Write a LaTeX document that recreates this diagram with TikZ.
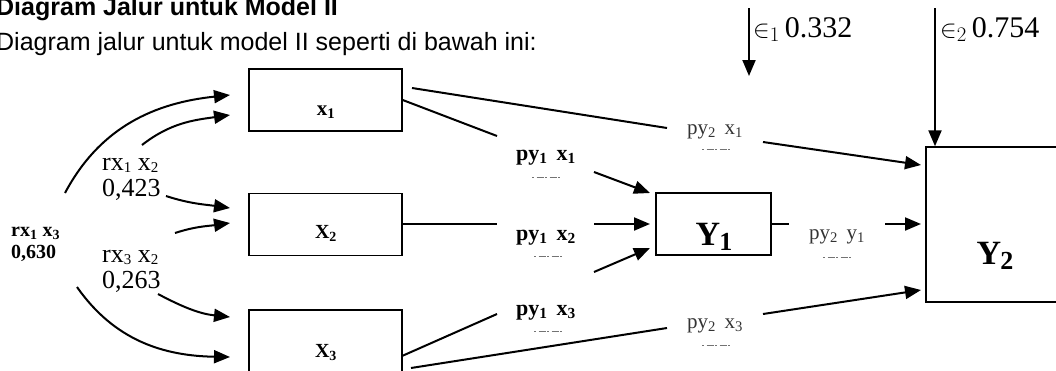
\documentclass[tikz,border=0pt]{standalone}
\usepackage{fontspec}
\setmainfont{Liberation Serif}
\newfontfamily\arial{Liberation Sans}
\usetikzlibrary{arrows.meta}
\newcommand{\bigsub}[1]{\kern-1pt\raisebox{-5pt}{\fontsize{26}{30}\selectfont #1}}
\newcommand{\lowsub}[1]{\raisebox{-2.5pt}{\fontsize{15}{18}\selectfont #1}}
\begin{document}
\begin{tikzpicture}[x=1pt,y=1pt,
  box/.style={draw, line width=1.4pt, minimum width=153pt, minimum height=62pt, inner sep=0pt},
  link/.style={line width=2pt},
  arr/.style={line width=2pt, -{Triangle[length=16pt,width=13pt]}},
  txt/.style={inner sep=0pt, anchor=base west},
  head/.style={txt, font=\arial\bfseries\fontsize{25}{30}\selectfont},
  intro/.style={txt, font=\arial\fontsize{25}{30}\selectfont},
  corr/.style={txt, font=\fontsize{26}{30}\selectfont},
  corrb/.style={txt, font=\bfseries\fontsize{20}{24}\selectfont},
  pathb/.style={inner sep=0pt, anchor=base, font=\bfseries\fontsize{22}{26}\selectfont},
  pathr/.style={inner sep=0pt, anchor=base, font=\fontsize{21}{26}\selectfont, text=black!80},
  varlab/.style={inner sep=0pt, anchor=base, font=\bfseries\fontsize{20}{24}\selectfont},
  biglab/.style={inner sep=0pt, anchor=base, font=\bfseries\fontsize{34}{40}\selectfont},
  errlab/.style={txt, font=\fontsize{30}{34}\selectfont},
  faint/.style={black!55, line width=0.8pt, dash pattern=on 2pt off 2.5pt on 7pt off 1.5pt}
]
\useasboundingbox (0,0) rectangle (1056,-370);
\clip (0,0) rectangle (1056,-370);

% heading
\node[head] (title) at (-4,-15) {Diagram Jalur untuk Model II};
\node[intro] (intro) at (-4,-50) {Diagram jalur untuk model II seperti di bawah ini:};

% variable boxes
\node[box] (X1) at (325.5,-100) {};
\node[box] (X2) at (325.5,-224.5) {};
\node[box] (X3) at (325.5,-341) {};
\node[box, minimum width=115pt] (Y1) at (713.5,-224) {};
\node[box, minimum width=140pt, minimum height=155pt] (Y2) at (996,-224.5) {};

\node[varlab, font=\bfseries\fontsize{21}{24}\selectfont] (lx1) at (326,-115) {x\textsubscript{1}};
\node[varlab] (lx2) at (326,-238) {X\textsubscript{2}};
\node[varlab] (lx3) at (326,-357) {X\textsubscript{3}};
\node[biglab] (ly1) at (714,-245) {Y\bigsub{1}};
\node[biglab] (ly2) at (995,-264) {Y\bigsub{2}};

% correlations between the exogenous variables
\node[corr] (r12) at (102,-170) {rx\lowsub{1} x\lowsub{2}};
\node[corr] (v12) at (102,-196) {0,423};
\node[corrb] (r13) at (11,-236) {rx\textsubscript{1} x\textsubscript{3}};
\node[corrb] (v13) at (11,-258) {0,630};
\node[corr] (r32) at (102,-262) {rx\lowsub{3} x\lowsub{2}};
\node[corr] (v32) at (102,-288) {0,263};

\coordinate (a1) at (65,-193);  \coordinate (b1) at (230,-95);
\coordinate (a2) at (142,-145); \coordinate (b2) at (230,-115);
\coordinate (a3) at (166,-196); \coordinate (b3) at (230,-208);
\coordinate (a4) at (175,-233); \coordinate (b4) at (230,-223);
\coordinate (a5) at (158,-294); \coordinate (b5) at (230,-317);
\coordinate (a6) at (77,-287);  \coordinate (b6) at (230,-357);
\draw[arr] (a1) to[out=62,in=186] (b1);
\draw[arr] (a2) to[out=38,in=188] (b2);
\draw[arr] (a3) to[out=-18,in=172] (b3);
\draw[arr] (a4) to[out=18,in=188] (b4);
\draw[arr] (a5) to[out=-28,in=174] (b5);
\draw[arr] (a6) to[out=-55,in=179] (b6);

% path coefficients towards Y1
\node[pathb] (p11) at (546,-160) {py\textsubscript{1}\, x\textsubscript{1}};
\node[pathb] (p12) at (546,-240) {py\textsubscript{1}\, x\textsubscript{2}};
\node[pathb] (p13) at (546,-315) {py\textsubscript{1}\, x\textsubscript{3}};
\draw[faint] (532,-177) -- (560,-177);
\draw[faint] (534,-256) -- (562,-256);
\draw[faint] (534,-331) -- (562,-331);

\coordinate (s11) at (X1.east);   \coordinate (g11) at (497,-136);
\coordinate (h11) at (594,-172);  \coordinate (e11) at (650,-193);
\draw[link] (s11) -- (g11);
\draw[arr] (h11) -- (e11);

\coordinate (s12) at (402,-224); \coordinate (g12) at (497,-224);
\coordinate (h12) at (594,-224); \coordinate (e12) at (650,-224);
\draw[link] (s12) -- (g12);
\draw[arr] (h12) -- (e12);

\coordinate (s13) at (402,-356); \coordinate (g13) at (497,-314);
\coordinate (h13) at (594,-272); \coordinate (e13) at (650,-248);
\draw[link] (s13) -- (g13);
\draw[arr] (h13) -- (e13);

% path coefficients towards Y2
\node[pathr] (p21) at (715,-134) {py\textsubscript{2}\, x\textsubscript{1}};
\node[pathr] (p23) at (715,-328) {py\textsubscript{2}\, x\textsubscript{3}};
\node[pathr] (p2y) at (837,-239) {py\textsubscript{2}\, y\textsubscript{1}};
\draw[faint] (702,-149) -- (730,-149);
\draw[faint] (702,-345) -- (730,-345);
\draw[faint] (823,-257) -- (851,-257);

\coordinate (s21) at (412,-88);  \coordinate (g21) at (667,-128);
\coordinate (h21) at (763,-142); \coordinate (e21) at (921,-165);
\draw[link] (s21) -- (g21);
\draw[arr] (h21) -- (e21);

\coordinate (s23) at (411,-368); \coordinate (g23) at (667,-328);
\coordinate (h23) at (763,-314); \coordinate (e23) at (921,-290);
\draw[link] (s23) -- (g23);
\draw[arr] (h23) -- (e23);

\coordinate (s2y) at (Y1.east);  \coordinate (g2y) at (789,-224);
\coordinate (h2y) at (885,-224); \coordinate (e2y) at (921,-224);
\draw[link] (s2y) -- (g2y);
\draw[arr] (h2y) -- (e2y);

% disturbance terms
\coordinate (u1) at (749,-8);
\coordinate (d1) at (749,-76);
\draw[arr] (u1) -- (d1);
\node[errlab] (e1) at (753,-37) {$\in_{1}$\,0.332};

\coordinate (u2) at (935,-8);
\draw[arr] (u2) -- (Y2.north -| u2);
\node[errlab] (e2) at (940,-37) {$\in_{2}$\,0.754};
\end{tikzpicture}
\end{document}
